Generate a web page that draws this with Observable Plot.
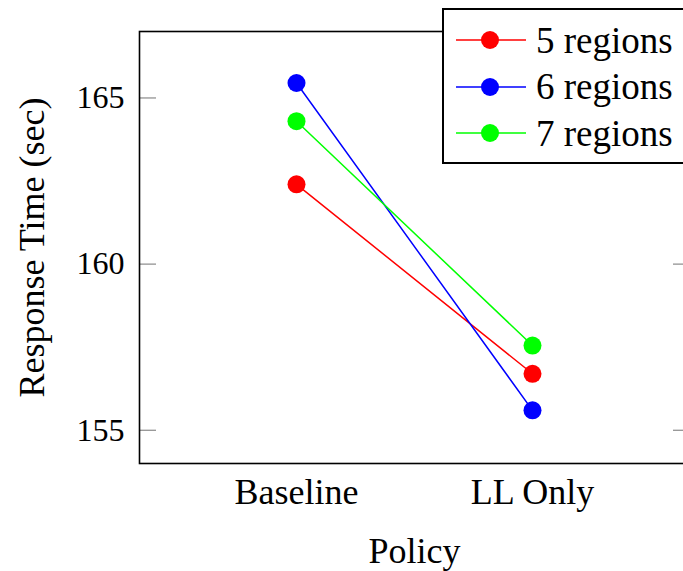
<!DOCTYPE html>
<html><head><meta charset="utf-8">
<script src="https://cdn.jsdelivr.net/npm/d3@7"></script>
<script src="https://cdn.jsdelivr.net/npm/@observablehq/plot@0.6"></script>
<style>
html,body{margin:0;padding:0;background:#fff;overflow:hidden;}
#wrap{position:relative;width:683px;height:571px;overflow:hidden;}
#legend{position:absolute;left:442px;top:8px;width:260px;box-sizing:border-box;height:156px;border:2px solid #000;background:#fff;font-family:"Liberation Serif",serif;font-size:37px;padding-top:7px;}
.row{display:flex;align-items:center;height:46.5px;}
.row svg{margin-left:12px;margin-right:10px;flex:none;}
</style></head>
<body>
<div id="wrap"></div>
<script>
const policies = ["Baseline", "LL Only"];
const seriesNames = ["5 regions", "6 regions", "7 regions"];
const seriesColors = ["#ff0000", "#0000ff", "#00ff00"];
const values5 = [162.4, 156.7];
const values6 = [165.45, 155.6];
const values7 = [164.3, 157.55];
const yTicks = [155, 160, 165];
const xLabel = "Policy";
const yLabel = "Response Time (sec)";

const allValues = [values5, values6, values7];
const data = [];
seriesNames.forEach((s, i) => policies.forEach((p, j) => data.push({series: s, policy: p, value: allValues[i][j]})));

const chart = Plot.plot({
  width: 683,
  height: 571,
  marginTop: 31,
  marginBottom: 108,
  marginLeft: 139,
  marginRight: -6,
  style: {fontFamily: "'Liberation Serif', serif", fontSize: "36px", background: "#fff", overflow: "visible"},
  x: {type: "point", domain: policies, padding: 0.665},
  y: {domain: [154, 167]},
  color: {domain: seriesNames, range: seriesColors},
  marks: [
    Plot.axisY(yTicks, {anchor: "left", tickSize: 17, dx: 17, text: null, stroke: "#8a8a8a", strokeWidth: 1.2, label: null}),
    Plot.axisY(yTicks, {anchor: "right", tickSize: 17, dx: -17, text: null, stroke: "#8a8a8a", strokeWidth: 1.2, label: null}),
    Plot.axisY(yTicks, {anchor: "left", tickSize: 0, tickPadding: 15, fontSize: 32, label: null}),
    Plot.axisX({anchor: "bottom", tickSize: 0, tickPadding: 15, fontSize: 36, label: null}),
    Plot.text([yLabel], {frameAnchor: "left", rotate: -90, dx: -107, textAnchor: "middle", lineAnchor: "middle", fontSize: 36}),
    Plot.text([xLabel], {frameAnchor: "bottom", dy: 99, textAnchor: "middle", lineAnchor: "bottom", fontSize: 36}),
    Plot.frame({stroke: "#000", strokeWidth: 1.6}),
    Plot.line(data, {x: "policy", y: "value", z: "series", stroke: "series", strokeWidth: 1.5}),
    Plot.dot(data, {x: "policy", y: "value", fill: "series", r: 9})
  ]
});
const wrap = document.getElementById("wrap");
wrap.appendChild(chart);

const legend = document.createElement("div");
legend.id = "legend";
seriesNames.forEach((s, i) => {
  const row = document.createElement("div");
  row.className = "row";
  row.innerHTML = `<svg width="70" height="20"><line x1="0" x2="70" y1="10" y2="10" stroke="${seriesColors[i]}" stroke-width="1.5"/><circle cx="34" cy="10" r="9" fill="${seriesColors[i]}"/></svg><span>${s}</span>`;
  legend.appendChild(row);
});
wrap.appendChild(legend);
</script>
</body></html>
